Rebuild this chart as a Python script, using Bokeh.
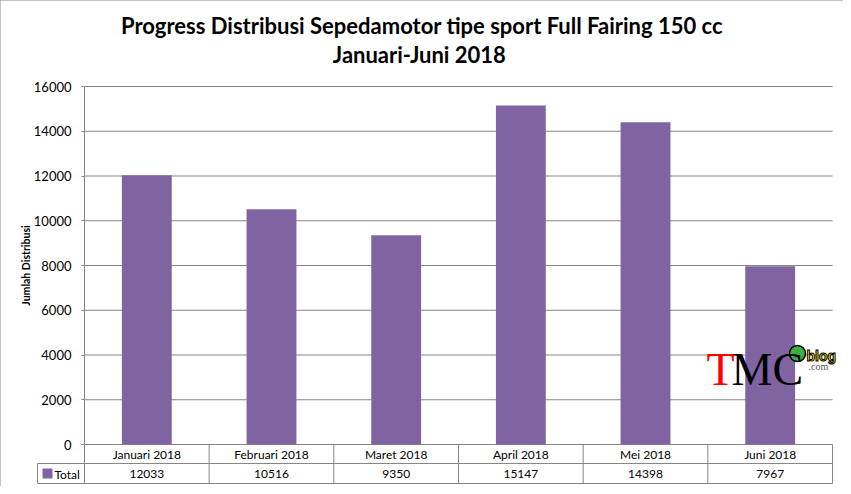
import math
from bokeh.plotting import figure
from bokeh.models import Range1d, FixedTicker, Label
from bokeh.embed import file_html
from bokeh.resources import INLINE

# ---- data ----
months = ["Januari 2018", "Februari 2018", "Maret 2018", "April 2018", "Mei 2018", "Juni 2018"]
totals = [12033, 10516, 9350, 15147, 14398, 7967]
series_name = "Total"
y_ticks = [0, 2000, 4000, 6000, 8000, 10000, 12000, 14000, 16000]
title_line1 = "Progress Distribusi Sepedamotor tipe sport Full Fairing 150 cc"
title_line2 = "Januari-Juni  2018"
y_label = "Jumlah Distribusi"

# ---- layout constants (pixels) ----
FONT = "Lato"
GRID = "#868686"
BAR = "#8064A2"
CAT_W = 124.67          # px per category
PX_PER_UNIT = 358 / 16000.0
PLOT_LEFT_PX = 84       # x of y axis
PLOT_BOTTOM_PX = 444    # y of value 0
FIG_W, FIG_H = 843, 486

def dx(px):
    return (px - PLOT_LEFT_PX) / CAT_W

def dy(py):
    return (PLOT_BOTTOM_PX - py) / PX_PER_UNIT

ymax = y_ticks[-1]
n = len(months)
centers = [i + 0.5 for i in range(n)]

p = figure(width=FIG_W, height=FIG_H, output_backend="svg", toolbar_location=None,
           x_range=Range1d(dx(0), dx(FIG_W)), y_range=Range1d(dy(FIG_H), dy(0)),
           min_border_left=0, min_border_right=0, min_border_top=0, min_border_bottom=0)
p.outline_line_color = None
p.xgrid.visible = False
p.ygrid.visible = False
p.xaxis.visible = False
p.styles = {"outline": "1px solid #868686", "outline-offset": "-1px"}

# y axis drawn at the left edge of the category area
yax = p.yaxis[0]
yax.fixed_location = 0
yax.bounds = (0, ymax)
yax.ticker = FixedTicker(ticks=y_ticks)
yax.axis_line_color = GRID
yax.major_tick_line_color = GRID
yax.major_tick_out = 3
yax.major_tick_in = 0
yax.minor_tick_line_color = None
yax.major_label_standoff = 10
yax.major_label_text_font = FONT
yax.major_label_text_font_size = "13px"
yax.major_label_text_color = "black"

# axis title, centred on the value area
p.text(x=[dx(25)], y=[ymax / 2.0], text=[y_label], angle=math.pi / 2,
       text_align="center", text_baseline="middle", text_font={"value": FONT},
       text_font_size="10.5px", text_font_style="bold", text_color="black")

# chart title (two centred lines)
title_x = dx(FIG_W / 2.0)
p.text(x=[title_x, title_x], y=[dy(25), dy(54)], text=[title_line1, title_line2],
       text_align="center", text_baseline="middle", text_font={"value": FONT},
       text_font_size="22px", text_font_style="bold", text_color="black")

# gridlines
p.segment(x0=[0] * len(y_ticks), x1=[n] * len(y_ticks), y0=y_ticks, y1=y_ticks,
          line_color=GRID, line_width=1)

# bars
p.vbar(x=centers, top=totals, bottom=0, width=0.4, fill_color=BAR, line_color=None)

# data table
row_mid = dy(463)
row_bot = dy(483)
p.segment(x0=[dx(37), dx(37)], x1=[n, n], y0=[row_mid, row_bot], y1=[row_mid, row_bot],
          line_color=GRID, line_width=1)
p.segment(x0=[dx(37)], x1=[dx(37)], y0=[row_mid], y1=[row_bot], line_color=GRID, line_width=1)
p.segment(x0=list(range(n + 1)), x1=list(range(n + 1)), y0=[row_bot] * (n + 1),
          y1=[0] * (n + 1), line_color=GRID, line_width=1)

p.text(x=centers, y=[dy(454)] * n, text=months, text_align="center", text_baseline="middle",
       text_font={"value": FONT}, text_font_size="12px", text_color="black")
p.text(x=centers, y=[dy(473.5)] * n, text=[str(v) for v in totals], text_align="center",
       text_baseline="middle", text_font={"value": FONT}, text_font_size="12px", text_color="black")
p.scatter(x=[dx(47)], y=[dy(473)], marker="square", size=10, fill_color=BAR, line_color=None)
p.text(x=[dx(54)], y=[dy(473.5)], text=[series_name], text_align="left", text_baseline="middle",
       text_font={"value": FONT}, text_font_size="12px", text_color="black")

# watermark
p.add_layout(Label(x=dx(706), y=dy(369), text="T", text_font="Liberation Serif",
                   text_font_size="46px", text_color="#ff0000", text_baseline="alphabetic"))
p.add_layout(Label(x=dx(731), y=dy(369), text="MC", text_font="Liberation Serif",
                   text_font_size="46px", text_color="black", text_baseline="alphabetic"))
p.scatter(x=[dx(797)], y=[dy(353)], marker="circle", size=16, fill_color="#3cb043",
          line_color="black", line_width=1.5)
p.add_layout(Label(x=dx(806), y=dy(355), text="blog", text_font="Liberation Sans",
                   text_font_size="14px", text_font_style="bold", text_color="#ffee00",
                   text_outline_color="black", text_baseline="alphabetic"))
p.add_layout(Label(x=dx(808), y=dy(366), text=".com", text_font="Liberation Serif",
                   text_font_size="10px", text_color="#555555", text_baseline="alphabetic"))

open("out.html", "w").write(file_html(p, INLINE))
